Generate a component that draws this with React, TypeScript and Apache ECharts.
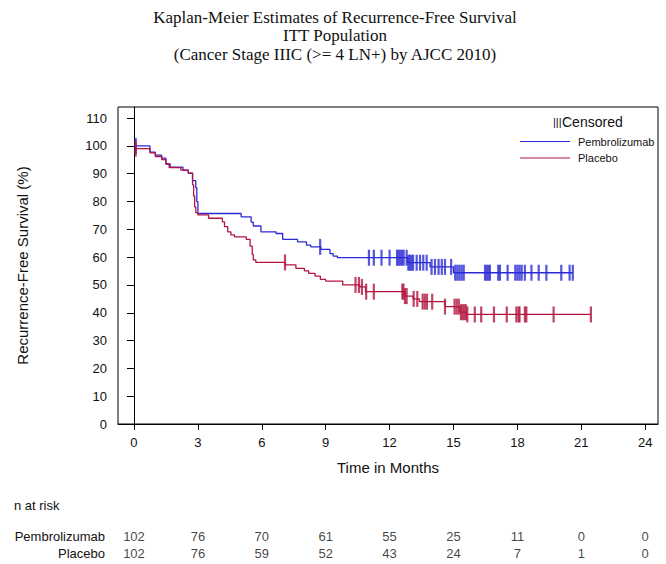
import React, { useEffect, useRef } from 'react';
import * as echarts from 'echarts';

const titleLines = [
  'Kaplan-Meier Estimates of Recurrence-Free Survival',
  'ITT Population',
  '(Cancer Stage IIIC (>= 4 LN+) by AJCC 2010)',
];

const xTicks = [0, 3, 6, 9, 12, 15, 18, 21, 24];
const yTicks = [0, 10, 20, 30, 40, 50, 60, 70, 80, 90, 100, 110];

const seriesNames = ['Pembrolizumab', 'Placebo'];

// [month, survival %] at which each level starts
const pembroSteps: [number, number][] = [
  [0, 100], [0.75, 97.8], [1.0, 96.7], [1.3, 95.6], [1.5, 93.5], [1.7, 92.4],
  [2.3, 91.3], [2.55, 90.2], [2.75, 87.5], [2.9, 85], [2.95, 80], [3.0, 75.7],
  [5.03, 74.5], [5.5, 72.6], [5.6, 71.2], [5.96, 69.1], [6.67, 68.5], [6.98, 66.4],
  [7.68, 65.5], [8.1, 64.3], [8.3, 63.7], [8.77, 62.8], [9.2, 61.3], [9.35, 60.4],
  [9.55, 59.8], [12.85, 58.0], [13.9, 56.5], [15.0, 54.4], [20.6, 54.4],
];

const placeboSteps: [number, number][] = [
  [0, 100], [0.08, 99], [0.75, 97.5], [1.0, 96.2], [1.3, 95.1], [1.5, 93.5],
  [1.65, 92.2], [2.2, 91.3], [2.55, 90.2], [2.75, 86], [2.8, 82], [2.85, 78],
  [2.9, 76], [3.0, 75.2], [3.5, 74.0], [4.15, 72.7], [4.25, 71.0], [4.4, 69.1],
  [4.55, 68.0], [4.72, 67.3], [5.27, 66.4], [5.45, 64], [5.55, 61], [5.6, 59.0],
  [5.72, 58.1], [7.1, 57.2], [7.6, 56.0], [8.0, 55.1], [8.2, 54.2], [8.5, 53.2],
  [8.75, 52.0], [9.0, 51.4], [9.8, 50.0], [10.6, 49.3], [10.87, 47.6], [12.7, 46.0],
  [13.1, 45.0], [13.4, 44.0], [14.6, 42.2], [15.3, 40.2], [15.6, 39.4], [21.45, 39.4],
];

const pembroCensor = [
  0.08, 8.74, 11.03, 11.26, 11.62, 12.0, 12.35, 12.42, 12.5, 12.58, 12.66, 12.8,
  12.88, 12.95, 13.03, 13.1, 13.27, 13.43, 13.58, 13.74, 13.97, 14.13, 14.3, 14.45,
  14.6, 14.89, 15.08, 15.18, 15.28, 15.38, 15.48, 16.48, 16.56, 16.64, 16.71, 17.1,
  17.18, 17.54, 17.9, 18.0, 18.1, 18.2, 18.35, 18.66, 19.0, 19.36, 20.06, 20.45, 20.6,
];

const placeboCensor = [
  0.08, 7.09, 10.4, 10.56, 10.7, 10.9, 11.26, 12.6, 12.65, 12.72, 12.8, 13.13,
  13.3, 13.55, 13.65, 13.75, 14.0, 14.6, 15.05, 15.15, 15.25, 15.35, 15.42, 15.5,
  15.58, 15.65, 16.0, 16.3, 16.9, 17.5, 17.95, 18.05, 18.1, 18.35, 18.42, 19.7, 21.45,
];

const riskTimes = [0, 3, 6, 9, 12, 15, 18, 21, 24];
const pembroAtRisk = [102, 76, 70, 61, 55, 25, 11, 0, 0];
const placeboAtRisk = [102, 76, 59, 52, 43, 24, 7, 1, 0];

const BLUE = '#2b2bd6';
const RED = '#b3153e';
const SANS = "'Liberation Sans', Arial, sans-serif";
const SERIF = "'Liberation Serif', 'Times New Roman', serif";

function survAt(steps: [number, number][], t: number): number {
  let s = steps[0][1];
  for (const [st, v] of steps) {
    if (st <= t) s = v;
    else break;
  }
  return s;
}

export default function App() {
  const ref = useRef<HTMLDivElement>(null);

  useEffect(() => {
    if (!ref.current) return;
    const chart = echarts.init(ref.current, null, { renderer: 'svg' });

    const xMin = -0.75;
    const xMax = 24.6;
    const legendColors = [BLUE, RED];

    const option: any = {
      animation: false,
      backgroundColor: '#ffffff',
      graphic: [
        ...titleLines.map((t, i) => ({
          type: 'text',
          x: 335,
          y: 17 + i * 18.5,
          style: {
            text: t,
            textAlign: 'center',
            textVerticalAlign: 'middle',
            font: `17px ${SERIF}`,
            fill: '#111',
          },
        })),
        {
          type: 'text',
          x: 553,
          y: 122,
          style: {
            text: '|||',
            textAlign: 'left',
            textVerticalAlign: 'middle',
            font: `11px ${SANS}`,
            fill: '#111',
          },
        },
        {
          type: 'text',
          x: 562,
          y: 122,
          style: {
            text: 'Censored',
            textAlign: 'left',
            textVerticalAlign: 'middle',
            font: `14px ${SANS}`,
            fill: '#111',
          },
        },
        ...seriesNames.flatMap((name, i) => [
          {
            type: 'line',
            shape: { x1: 520, y1: 141.5 + i * 16.5, x2: 570, y2: 141.5 + i * 16.5 },
            style: { stroke: legendColors[i], lineWidth: 1 },
          },
          {
            type: 'text',
            x: 578,
            y: 141.5 + i * 16.5,
            style: {
              text: name,
              textAlign: 'left',
              textVerticalAlign: 'middle',
              font: `11px ${SANS}`,
              fill: '#111',
            },
          },
        ]),
        {
          type: 'text',
          x: 14,
          y: 505,
          style: {
            text: 'n at risk',
            textAlign: 'left',
            textVerticalAlign: 'middle',
            font: `13px ${SANS}`,
            fill: '#111',
          },
        },
      ],
      grid: [
        {
          left: 118,
          top: 107,
          width: 540,
          height: 317,
          show: true,
          borderColor: '#000',
          borderWidth: 1,
          backgroundColor: 'transparent',
        },
        {
          left: 118,
          top: 527.5,
          width: 540,
          height: 34,
          show: false,
        },
      ],
      xAxis: [
        {
          type: 'value',
          gridIndex: 0,
          min: xMin,
          max: xMax,
          name: 'Time in Months',
          nameLocation: 'middle',
          nameGap: 36,
          nameTextStyle: { fontSize: 15, fontFamily: SANS, color: '#111' },
          axisLine: { show: true, onZero: false, lineStyle: { color: '#000' } },
          axisTick: { show: true, length: 6, customValues: xTicks, lineStyle: { color: '#000' } },
          axisLabel: {
            customValues: xTicks,
            margin: 12,
            fontSize: 13,
            fontFamily: SANS,
            color: '#111',
          },
          splitLine: { show: false },
        },
        {
          type: 'value',
          gridIndex: 1,
          min: xMin,
          max: xMax,
          show: false,
        },
      ],
      yAxis: [
        {
          type: 'value',
          gridIndex: 0,
          min: 0,
          max: 114,
          name: 'Recurrence-Free Survival (%)',
          nameLocation: 'middle',
          nameGap: 88,
          nameTextStyle: { fontSize: 15, fontFamily: SANS, color: '#111' },
          axisLine: { show: true, lineStyle: { color: '#000' } },
          axisTick: { show: true, length: 7, customValues: yTicks, lineStyle: { color: '#000' } },
          axisLabel: {
            customValues: yTicks,
            margin: 11,
            fontSize: 13,
            fontFamily: SANS,
            color: '#111',
          },
          splitLine: { show: false },
        },
        {
          type: 'category',
          gridIndex: 1,
          data: ['Placebo', 'Pembrolizumab'],
          axisLine: { show: false },
          axisTick: { show: false },
          axisLabel: {
            margin: 13,
            fontSize: 13,
            fontFamily: SANS,
            color: '#111',
          },
          splitLine: { show: false },
        },
      ],
      series: [
        {
          name: 'Pembrolizumab',
          type: 'line',
          step: 'end',
          xAxisIndex: 0,
          yAxisIndex: 0,
          symbol: 'none',
          color: BLUE,
          lineStyle: { color: BLUE, width: 1.3 },
          data: pembroSteps,
          z: 3,
        },
        {
          name: 'Placebo',
          type: 'line',
          step: 'end',
          xAxisIndex: 0,
          yAxisIndex: 0,
          symbol: 'none',
          color: RED,
          lineStyle: { color: RED, width: 1.3 },
          data: placeboSteps,
          z: 3,
        },
        {
          name: 'Pembrolizumab censored',
          type: 'scatter',
          xAxisIndex: 0,
          yAxisIndex: 0,
          symbol: 'rect',
          symbolSize: [2.2, 16],
          itemStyle: { color: BLUE },
          data: pembroCensor.map((t) => [t, survAt(pembroSteps, t)]),
          z: 4,
        },
        {
          name: 'Placebo censored',
          type: 'scatter',
          xAxisIndex: 0,
          yAxisIndex: 0,
          symbol: 'rect',
          symbolSize: [2.2, 16],
          itemStyle: { color: RED },
          data: placeboCensor.map((t) => [t, survAt(placeboSteps, t)]),
          z: 4,
        },
        {
          name: 'At risk',
          type: 'scatter',
          xAxisIndex: 1,
          yAxisIndex: 1,
          symbolSize: 0,
          label: {
            show: true,
            position: 'inside',
            fontSize: 13,
            fontFamily: SANS,
            color: '#111',
            formatter: (p: any) => String(p.value[2]),
          },
          data: [
            ...riskTimes.map((t, i) => [t, 'Pembrolizumab', pembroAtRisk[i]]),
            ...riskTimes.map((t, i) => [t, 'Placebo', placeboAtRisk[i]]),
          ],
        },
      ],
    };

    chart.setOption(option);
    return () => chart.dispose();
  }, []);

  return (
    <div
      ref={ref}
      style={{ position: 'absolute', left: 0, top: 0, width: 666, height: 564, background: '#fff' }}
    />
  );
}
